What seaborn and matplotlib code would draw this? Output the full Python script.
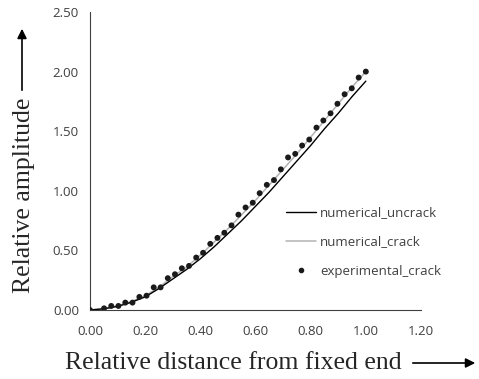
import numpy as np
import pandas as pd
import matplotlib
matplotlib.use("Agg")
import matplotlib.pyplot as plt
import seaborn as sns
from matplotlib.lines import Line2D

# ---- data ----
line_x = [0.00, 0.05, 0.10, 0.15, 0.20, 0.25, 0.30, 0.35, 0.40, 0.45, 0.50,
          0.55, 0.60, 0.65, 0.70, 0.75, 0.80, 0.85, 0.90, 0.95, 1.00]
uncrack_y = [0.00, 0.01, 0.03, 0.065, 0.11, 0.18, 0.26, 0.34, 0.43, 0.53, 0.64,
             0.75, 0.87, 0.99, 1.12, 1.25, 1.38, 1.52, 1.65, 1.79, 1.92]
crack_y = [0.00, 0.012, 0.035, 0.07, 0.12, 0.19, 0.28, 0.36, 0.46, 0.57, 0.68,
           0.80, 0.92, 1.05, 1.18, 1.31, 1.45, 1.59, 1.73, 1.87, 2.00]

exp_x = [0.000, 0.051, 0.077, 0.103, 0.128, 0.154, 0.179, 0.205, 0.231, 0.256,
         0.282, 0.308, 0.333, 0.359, 0.385, 0.410, 0.436, 0.462, 0.487, 0.513,
         0.538, 0.564, 0.590, 0.615, 0.641, 0.667, 0.692, 0.718, 0.744, 0.769,
         0.795, 0.821, 0.846, 0.872, 0.897, 0.923, 0.949, 0.974, 1.000]
exp_y = [0.000, 0.014, 0.034, 0.034, 0.062, 0.062, 0.110, 0.120, 0.190, 0.190,
         0.267, 0.300, 0.350, 0.370, 0.440, 0.480, 0.555, 0.605, 0.648, 0.710,
         0.800, 0.860, 0.900, 0.980, 1.050, 1.090, 1.180, 1.280, 1.310, 1.380,
         1.430, 1.530, 1.590, 1.650, 1.730, 1.810, 1.860, 1.950, 2.000]

x_ticks = [0.00, 0.20, 0.40, 0.60, 0.80, 1.00, 1.20]
y_ticks = [0.00, 0.50, 1.00, 1.50, 2.00, 2.50]

series_names = ["numerical_uncrack", "numerical_crack", "experimental_crack"]
x_label = "Relative distance from fixed end"
y_label = "Relative amplitude"

sns.set_style("white")
plt.rcParams['font.family'] = ['Open Sans', 'DejaVu Sans']

fig = plt.figure(figsize=(4.79, 3.79), dpi=100)
ax = fig.add_axes([90/479, 1-310/379, (421-90)/479, (310-12)/379])

df_lines = pd.DataFrame({"x": line_x, "unc": uncrack_y, "crk": crack_y})
sns.lineplot(data=df_lines, x="x", y="crk", ax=ax, color="#b3b3b3", lw=1.1)
sns.lineplot(data=df_lines, x="x", y="unc", ax=ax, color="#000000", lw=1.0)
sns.scatterplot(x=exp_x, y=exp_y, ax=ax, color="#1a1a1a", s=18, edgecolor="none", zorder=5)

ax.set_xlim(0, 1.2)
ax.set_ylim(0, 2.5)
ax.set_xticks(x_ticks)
ax.set_yticks(y_ticks)
ax.set_xticklabels([f"{v:.2f}" for v in x_ticks])
ax.set_yticklabels([f"{v:.2f}" for v in y_ticks])
ax.tick_params(axis='both', direction='out', length=4, width=0.8, color='#404040',
               labelsize=9.5, labelcolor='#404040', pad=4)
ax.tick_params(axis='x', pad=7)
for s in ['top', 'right']:
    ax.spines[s].set_visible(False)
for s in ['left', 'bottom']:
    ax.spines[s].set_color('#404040')
    ax.spines[s].set_linewidth(0.8)
ax.set_xlabel("")
ax.set_ylabel("")

handles = [Line2D([], [], color='black', lw=1.0),
           Line2D([], [], color='#b3b3b3', lw=1.1),
           Line2D([], [], color='#1a1a1a', marker='o', ls='none', markersize=3)]
leg = ax.legend(handles, series_names, loc='center left',
                bbox_to_anchor=(274/479, 1-242/379), bbox_transform=fig.transFigure,
                frameon=False, fontsize=9.5, handlelength=2.3, handletextpad=0.3,
                labelspacing=1.22)
for t in leg.get_texts():
    t.set_color('#404040')

serif = ['Liberation Serif', 'DejaVu Serif']
fig.text(65/479, 1-363/379, x_label, family=serif, fontsize=18.5, ha='left', va='center')
fig.text(24/479, 1-195/379, y_label, family=serif, fontsize=18.5, ha='center', va='center', rotation=90)

fig.add_artist(matplotlib.patches.FancyArrowPatch((410/479, 1-363/379), (478/479, 1-363/379),
               transform=fig.transFigure, arrowstyle='-|>', mutation_scale=14, color='black', lw=1.2))
fig.add_artist(matplotlib.patches.FancyArrowPatch((22/479, 1-93/379), (22/479, 1-26/379),
               transform=fig.transFigure, arrowstyle='-|>', mutation_scale=14, color='black', lw=1.2))

fig.savefig("out.png", dpi=100)
